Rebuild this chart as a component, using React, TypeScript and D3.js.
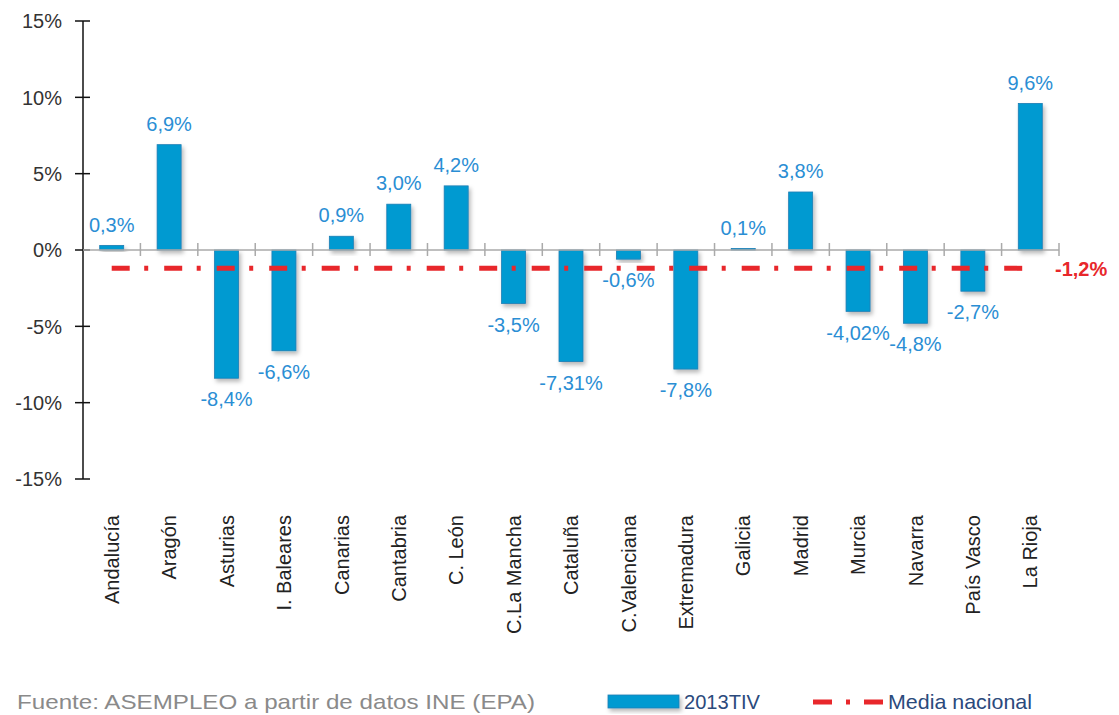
import React from "react";
import * as d3 from "d3";

const categories = [
  "Andalucía", "Aragón", "Asturias", "I. Baleares", "Canarias", "Cantabria", "C. León",
  "C.La Mancha", "Cataluña", "C.Valenciana", "Extremadura", "Galicia", "Madrid",
  "Murcia", "Navarra", "País Vasco", "La Rioja",
];
const values2013TIV = [0.3, 6.9, -8.4, -6.6, 0.9, 3.0, 4.2, -3.5, -7.31, -0.6, -7.8, 0.1, 3.8, -4.02, -4.8, -2.7, 9.6];
const valueLabels = ["0,3%", "6,9%", "-8,4%", "-6,6%", "0,9%", "3,0%", "4,2%", "-3,5%", "-7,31%", "-0,6%", "-7,8%", "0,1%", "3,8%", "-4,02%", "-4,8%", "-2,7%", "9,6%"];
const mediaNacional = -1.2;
const mediaLabel = "-1,2%";
const yTicks = [15, 10, 5, 0, -5, -10, -15];
const seriesName = "2013TIV";
const lineName = "Media nacional";
const source = "Fuente: ASEMPLEO a partir de datos INE (EPA)";

const W = 1119;
const H = 715;
const FONT = "'Liberation Sans', Arial, Helvetica, sans-serif";
const BLUE = "#039ad1";
const BLUE_STROKE = "#1b7db4";
const LABEL_BLUE = "#2a8ed4";
const RED = "#e8272b";

export default function App() {
  const x = d3.scaleBand<string>().domain(categories).range([83, 1059]).padding(0);
  const y = d3.scaleLinear().domain([-15, 15]).range([479, 21]);
  const bw = x.bandwidth();
  const barW = 24;
  const y0 = y(0);
  const center = (c: string) => (x(c) as number) + bw / 2;
  const lineX1 = center(categories[0]);
  const lineX2 = center(categories[categories.length - 1]);
  const lineY = y(mediaNacional);

  return (
    <svg
      width={W}
      height={H}
      style={{ position: "absolute", left: 0, top: 0, background: "#fff" }}
      fontFamily={FONT}
    >
      <defs>
        <filter id="shadow" x="-30%" y="-30%" width="170%" height="170%">
          <feDropShadow dx="2" dy="3" stdDeviation="2" floodColor="#000" floodOpacity="0.28" />
        </filter>
      </defs>

      {/* y axis */}
      <line x1={83} x2={83} y1={y(15)} y2={y(-15)} stroke="#111" strokeWidth={1.5} />
      {yTicks.map((t) => (
        <g key={t}>
          <line x1={75} x2={90} y1={y(t)} y2={y(t)} stroke="#111" strokeWidth={1.5} />
          <text x={62} y={y(t)} dy="0.36em" textAnchor="end" fontSize={20} fill="#333">
            {t}%
          </text>
        </g>
      ))}

      {/* bars */}
      {categories.map((c, i) => {
        const v = values2013TIV[i];
        const top = Math.min(y(v), y0);
        const h = Math.abs(y(v) - y0);
        return (
          <rect
            key={c}
            x={center(c) - barW / 2}
            y={top}
            width={barW}
            height={Math.max(h, 1.5)}
            fill={BLUE}
            stroke={BLUE_STROKE}
            strokeWidth={0.8}
            filter="url(#shadow)"
          />
        );
      })}

      {/* zero line + category ticks */}
      <line x1={83} x2={1059} y1={y0} y2={y0} stroke="#aaa" strokeWidth={1.5} />
      {categories.map((c) => {
        const xe = (x(c) as number) + bw;
        return <line key={c} x1={xe} x2={xe} y1={y0 - 7} y2={y0 + 6} stroke="#aaa" strokeWidth={1.5} />;
      })}

      {/* value labels */}
      {categories.map((c, i) => {
        const v = values2013TIV[i];
        const yy = v >= 0 ? y(v) - 21 : y(v) + 21;
        return (
          <text key={c} x={center(c)} y={yy} dy="0.36em" textAnchor="middle" fontSize={20} fill={LABEL_BLUE}>
            {valueLabels[i]}
          </text>
        );
      })}

      {/* media nacional line */}
      <line
        x1={lineX1}
        x2={lineX2}
        y1={lineY}
        y2={lineY}
        stroke={RED}
        strokeWidth={5}
        strokeDasharray="18 14.5 4 16"
      />
      <text x={1055} y={lineY} dy="0.36em" fontSize={20} fontWeight="bold" fill={RED}>
        {mediaLabel}
      </text>

      {/* category labels */}
      {categories.map((c) => (
        <text
          key={c}
          transform={`translate(${center(c)},515) rotate(-90)`}
          dy="0.36em"
          textAnchor="end"
          fontSize={20}
          fill="#222"
        >
          {c}
        </text>
      ))}

      {/* source */}
      <text x={17} y={709} fontSize={21} fill="#8a8a8a" textLength={518} lengthAdjust="spacingAndGlyphs">
        {source}
      </text>

      {/* legend */}
      <rect x={608} y={695} width={71} height={13} fill={BLUE} stroke={BLUE_STROKE} strokeWidth={0.8} filter="url(#shadow)" />
      <text x={684} y={709} fontSize={20} fill="#2b4a7c" textLength={76} lengthAdjust="spacingAndGlyphs">
        {seriesName}
      </text>
      <line x1={813} x2={884} y1={702} y2={702} stroke={RED} strokeWidth={5} strokeDasharray="19 14 4 14" />
      <text x={888} y={709} fontSize={21} fill="#2b4a7c" textLength={144} lengthAdjust="spacingAndGlyphs">
        {lineName}
      </text>
    </svg>
  );
}
